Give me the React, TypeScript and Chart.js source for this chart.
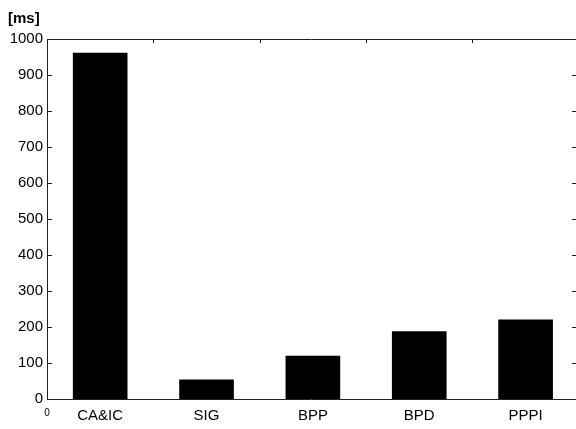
import React, { useEffect, useRef } from "react";
import { Chart, registerables } from "chart.js";

Chart.register(...registerables);

const categories = ["CA&IC", "SIG", "BPP", "BPD", "PPPI"];
const values = [961, 53, 119, 187, 220];
const yTicks = [0, 100, 200, 300, 400, 500, 600, 700, 800, 900, 1000];
const xBoundaries = [0.5, 1.5, 2.5, 3.5];
const unitLabel = "[ms]";

const FONT = "'Liberation Sans', Arial, Helvetica, sans-serif";

const framePlugin = {
  id: "frame",
  afterDatasetsDraw(chart: any) {
    const { ctx, chartArea } = chart;
    const { left, right, top, bottom } = chartArea;
    const y = chart.scales.y;
    const x = chart.scales.x;
    ctx.save();
    ctx.strokeStyle = "#222";
    ctx.lineWidth = 1;
    ctx.beginPath();
    ctx.moveTo(Math.round(left) + 0.5, top);
    ctx.lineTo(Math.round(left) + 0.5, bottom);
    ctx.moveTo(left, Math.round(bottom) + 0.5);
    ctx.lineTo(right, Math.round(bottom) + 0.5);
    ctx.moveTo(left, Math.round(top) + 0.5);
    ctx.lineTo(right, Math.round(top) + 0.5);
    for (const v of yTicks) {
      const py = Math.round(y.getPixelForValue(v)) + 0.5;
      ctx.moveTo(left, py);
      ctx.lineTo(left + 5, py);
      ctx.moveTo(right - 4, py);
      ctx.lineTo(right, py);
    }
    for (const v of xBoundaries) {
      const px = Math.round(x.getPixelForValue(v)) + 0.5;
      ctx.moveTo(px, top);
      ctx.lineTo(px, top + 4);
    }
    ctx.stroke();
    ctx.restore();
  },
};

export default function App() {
  const ref = useRef<HTMLCanvasElement>(null);
  useEffect(() => {
    if (!ref.current) return;
    const chart = new Chart(ref.current, {
      type: "bar",
      data: {
        datasets: [
          {
            data: values.map((v, i) => ({ x: i, y: v })),
            backgroundColor: "#000",
            borderWidth: 0,
            barThickness: 54,
          },
        ],
      },
      options: {
        responsive: false,
        animation: false,
        layout: { padding: { left: 8, right: 0, top: 0, bottom: 0 } },
        plugins: {
          legend: { display: false },
          tooltip: { enabled: false },
          title: {
            display: true,
            text: unitLabel,
            align: "start",
            color: "#000",
            font: { family: FONT, size: 15, weight: "bold" },
            padding: { top: 10, bottom: 11 },
          },
        },
        scales: {
          x: {
            type: "linear",
            offset: false,
            min: -0.5,
            max: 4.474,
            grid: { display: false, drawTicks: false, offset: false },
            border: { display: false },
            afterBuildTicks: (scale: any) => {
              scale.ticks = [-0.5, 0, 1, 2, 3, 4].map((value) => ({ value }));
            },
            afterFit: (scale: any) => {
              scale.height = 30;
            },
            ticks: {
              autoSkip: false,
              maxRotation: 0,
              padding: 8,
              color: "#000",
              font: (c: any) =>
                c.tick && c.tick.value === -0.5
                  ? { family: FONT, size: 10 }
                  : { family: FONT, size: 15 },
              callback: (v: any) => (v === -0.5 ? "0" : categories[v as number]),
            },
          },
          y: {
            min: 0,
            max: 1000,
            grid: { display: false, drawTicks: false },
            border: { display: false },
            afterFit: (scale: any) => {
              scale.width = 39;
            },
            afterBuildTicks: (scale: any) => {
              scale.ticks = yTicks.map((value) => ({ value }));
            },
            ticks: {
              padding: 4,
              color: "#000",
              font: { family: FONT, size: 15 },
              callback: (v: any) => String(v),
            },
          },
        },
      },
      plugins: [framePlugin],
    });
    return () => chart.destroy();
  }, []);
  return (
    <div style={{ position: "absolute", left: 0, top: 0, width: 576, height: 429, background: "#fff" }}>
      <canvas ref={ref} width={576} height={429} style={{ display: "block" }} />
    </div>
  );
}
